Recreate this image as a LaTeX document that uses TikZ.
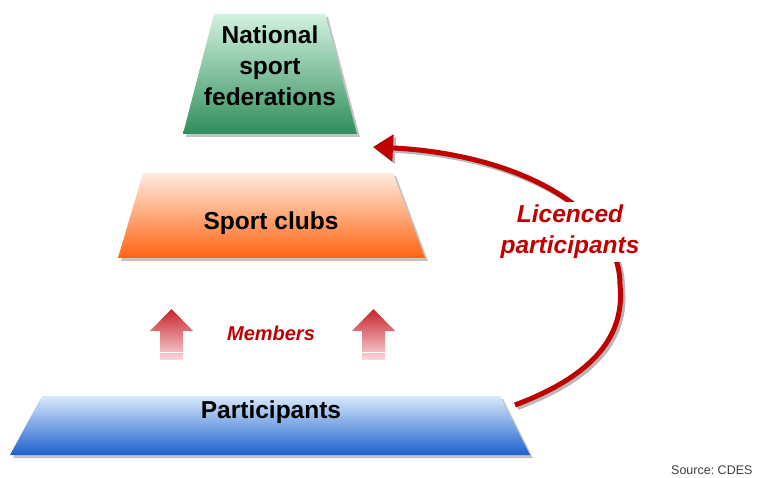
\documentclass[tikz,border=0pt]{standalone}
\usepackage{fontspec}
\setmainfont{Liberation Sans}
\usepackage{tikz}
\usetikzlibrary{calc,shadows,arrows.meta}
\definecolor{fedTop}{RGB}{210,241,224}
\definecolor{fedBot}{RGB}{48,142,92}
\definecolor{clubTop}{RGB}{253,235,224}
\definecolor{clubBot}{RGB}{255,100,18}
\definecolor{partTop}{RGB}{216,233,251}
\definecolor{partBot}{RGB}{30,96,206}
\definecolor{memTop}{RGB}{198,36,44}
\definecolor{memBot}{RGB}{252,218,222}
\definecolor{licRed}{RGB}{192,0,0}
\tikzset{pyramidFig/.style={x=1pt,y=-1pt},
         level/.style={drop shadow={shadow xshift=3pt,shadow yshift=-3pt,fill=black!40,opacity=0.6}},
         levelText/.style={font=\fontsize{24.5}{31}\selectfont\bfseries, align=center, inner sep=0pt},
         memArrow/.style={top color=memTop, bottom color=memBot},
         memText/.style={font=\fontsize{20}{24}\selectfont\bfseries\itshape, text=licRed},
         licArrow/.style={draw=licRed, line width=5pt, -{Triangle[length=20pt,width=26pt]}},
         licText/.style={font=\fontsize{24.5}{31}\selectfont\bfseries\itshape, text=licRed,
                    align=center, fill=white, inner sep=3pt}}
\begin{document}
\begin{tikzpicture}[pyramidFig]
    \useasboundingbox (0,0) rectangle (757,478);
    %LEVELS
    \shade [level, top color=fedTop, bottom color=fedBot]
        (214,14) -- (325,14) -- (357,134) -- (183,134) -- cycle;
    \shade [level, top color=clubTop, bottom color=clubBot]
        (143,173) -- (393,173) -- (425,258) -- (118,258) -- cycle;
    \shade [level, top color=partTop, bottom color=partBot]
        (42,396) -- (500,396) -- (530,455) -- (10,455) -- cycle;
    \coordinate (fedBR) at (357,134);
    \coordinate (partTR) at (500,396);
    \node [levelText] (fed) at (270,66) {National\\sport\\federations};
    \node [levelText] (club) at (271,223) {Sport clubs};
    \node [levelText] (part) at (271,412) {Participants};
    %MEMBERS
    \foreach \mx in {171.5,373.5}{
        \shade [memArrow] (\mx,309) -- (\mx+21.5,331) -- (\mx+11.5,331) -- (\mx+11.5,360)
              -- (\mx-11.5,360) -- (\mx-11.5,331) -- (\mx-21.5,331) -- cycle;
        \draw [white, line width=1.2pt] (\mx-12,352.5) -- (\mx+12,352.5);
    }
    \node [memText] (mem) at (271,333) {Members};
    %LICENCED
    \coordinate (licStart) at ($(partTR)+(15,9)$);
    \coordinate (licTurn) at ($(licStart)+(105,-120)$);
    \coordinate (licEnd) at ($(fedBR)+(16,13)$);
    \begin{scope}[transform canvas={shift={(2.5pt,-2.5pt)}}]
        \draw [licArrow, draw=black!28] (licStart) .. controls ($(licStart)+(80,-30)$) and ($(licTurn)+(5,50)$) .. (licTurn)
              .. controls ($(licTurn)+(0,-75)$) and ($(licEnd)+(145,7)$) .. (licEnd);
    \end{scope}
    \draw [licArrow] (licStart) .. controls ($(licStart)+(80,-30)$) and ($(licTurn)+(5,50)$) .. (licTurn)
          .. controls ($(licTurn)+(0,-75)$) and ($(licEnd)+(145,7)$) .. (licEnd);
    \node [licText] (lic) at (570,232) {Licenced\\participants};
    %SOURCE
    \node [font=\fontsize{12.5}{15}\selectfont, text=black!75, anchor=east] (src) at (756,470) {Source:\ CDES};
\end{tikzpicture}
\end{document}
